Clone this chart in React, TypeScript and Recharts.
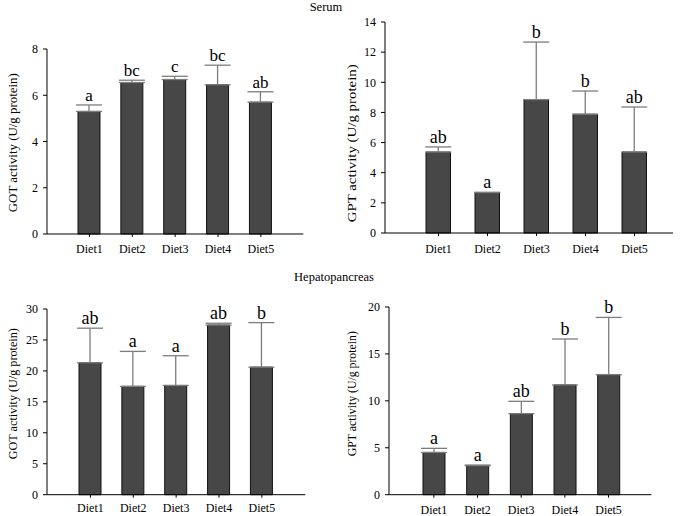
import React from "react";
import { BarChart, Bar, XAxis, YAxis, ErrorBar, LabelList, Label } from "recharts";

const diets = ["Diet1", "Diet2", "Diet3", "Diet4", "Diet5"];

// serum
const serumGot = [5.3, 6.55, 6.68, 6.45, 5.7];
const serumGotSd = [0.28, 0.1, 0.14, 0.85, 0.45];
const serumGotLetters = ["a", "bc", "c", "bc", "ab"];
const serumGotTicks = [0, 2, 4, 6, 8];

const serumGpt = [5.37, 2.68, 8.85, 7.88, 5.37];
const serumGptSd = [0.34, 0.02, 3.82, 1.54, 2.99];
const serumGptLetters = ["ab", "a", "b", "b", "ab"];
const serumGptTicks = [0, 2, 4, 6, 8, 10, 12, 14];

// hepatopancreas
const hepGot = [21.3, 17.5, 17.65, 27.4, 20.6];
const hepGotSd = [5.6, 5.65, 4.8, 0.3, 7.2];
const hepGotLetters = ["ab", "a", "a", "ab", "b"];
const hepGotTicks = [0, 5, 10, 15, 20, 25, 30];

const hepGpt = [4.5, 3.09, 8.63, 11.69, 12.79];
const hepGptSd = [0.44, 0.07, 1.32, 4.9, 6.1];
const hepGptLetters = ["a", "a", "ab", "b", "b"];
const hepGptTicks = [0, 5, 10, 15, 20];

const FONT = "'Liberation Serif', 'Times New Roman', serif";
const AXIS_W = 45;
const TOP = 30;
const XAXIS_H = 28;

type PanelProps = {
  values: number[];
  sd: number[];
  letters: string[];
  ticks: number[];
  yLabel: string;
  plotLeft: number;
  plotTop: number;
  plotW: number;
  plotH: number;
  barSize: number;
  padL: number;
  padR: number;
  labelX: number;
  labelCY: number;
  labelLen: number;
  letterSize: number;
  tickMargin: number;
};

const Panel = (p: PanelProps) => {
  const rows = diets.map((d, i) => ({
    name: d,
    value: p.values[i],
    sd: [0, p.sd[i]],
    letter: p.letters[i],
  }));
  const left = p.plotLeft - AXIS_W;
  const top = p.plotTop - TOP;
  const width = AXIS_W + p.plotW + 10;
  const height = TOP + p.plotH + XAXIS_H;

  const renderLetter = (props: any) => {
    const { x, y, width: w, height: h, index } = props;
    const row = rows[index];
    const perUnit = Number(h) / row.value;
    const errTop = Number(y) - row.sd[1] * perUnit;
    return (
      <text
        x={Number(x) + Number(w) / 2}
        y={errTop - 4}
        textAnchor="middle"
        fontSize={p.letterSize}
        fontFamily={FONT}
        fill="#000"
      >
        {row.letter}
      </text>
    );
  };

  const renderYLabel = () => (
    <text
      transform={`translate(${p.labelX - left},${p.labelCY - top}) rotate(-90)`}
      textAnchor="middle"
      dominantBaseline="central"
      fontSize={13}
      textLength={p.labelLen}
      lengthAdjust="spacingAndGlyphs"
      fontFamily={FONT}
      fill="#000"
    >
      {p.yLabel}
    </text>
  );

  return (
    <div style={{ position: "absolute", left, top }}>
      <BarChart
        width={width}
        height={height}
        data={rows}
        margin={{ top: TOP, right: 10, bottom: 0, left: 0 }}
      >
        <XAxis
          dataKey="name"
          height={XAXIS_H}
          padding={{ left: p.padL, right: p.padR }}
          stroke="#000"
          tickSize={3}
          tickMargin={p.tickMargin}
          tick={{ fill: "#000", fontSize: 12, fontFamily: FONT }}
        />
        <YAxis
          width={AXIS_W}
          domain={[0, p.ticks[p.ticks.length - 1]]}
          ticks={p.ticks}
          interval={0}
          stroke="#000"
          tickSize={4}
          tickMargin={5}
          tick={{ fill: "#000", fontSize: 12, fontFamily: FONT }}
        >
          <Label content={renderYLabel} />
        </YAxis>
        <Bar
          dataKey="value"
          fill="#474747"
          stroke="#111"
          strokeWidth={1}
          barSize={p.barSize}
          isAnimationActive={false}
        >
          <ErrorBar
            dataKey="sd"
            width={13}
            stroke="#7d7d7d"
            strokeWidth={1.3}
            direction="y"
            isAnimationActive={false}
          />
          <LabelList dataKey="letter" content={renderLetter} />
        </Bar>
      </BarChart>
    </div>
  );
};

export default function App() {
  return (
    <div
      style={{
        position: "absolute",
        left: 0,
        top: 0,
        width: 685,
        height: 516,
        background: "#fff",
        fontFamily: FONT,
      }}
    >
      <div style={{ position: "absolute", left: 296, width: 60, top: 0, textAlign: "center", fontSize: 12.5 }}>
        Serum
      </div>
      <div style={{ position: "absolute", left: 274, width: 120, top: 270, textAlign: "center", fontSize: 12.5 }}>
        Hepatopancreas
      </div>
      <Panel
        values={serumGot}
        sd={serumGotSd}
        letters={serumGotLetters}
        ticks={serumGotTicks}
        yLabel="GOT activity (U/g protein)"
        plotLeft={46.7}
        plotTop={49.3}
        plotW={256.3}
        plotH={185}
        barSize={22}
        padL={21}
        padR={21}
        labelX={12.7}
        labelCY={143}
        labelLen={139}
        letterSize={17}
        tickMargin={7}
      />
      <Panel
        values={serumGpt}
        sd={serumGptSd}
        letters={serumGptLetters}
        ticks={serumGptTicks}
        yLabel="GPT activity (U/g protein)"
        plotLeft={385}
        plotTop={21.7}
        plotW={288}
        plotH={211}
        barSize={24.5}
        padL={29}
        padR={14}
        labelX={351.5}
        labelCY={143}
        labelLen={158}
        letterSize={18}
        tickMargin={8}
      />
      <Panel
        values={hepGot}
        sd={hepGotSd}
        letters={hepGotLetters}
        ticks={hepGotTicks}
        yLabel="GOT activity (U/g protein)"
        plotLeft={46.7}
        plotTop={309.3}
        plotW={258.3}
        plotH={185.7}
        barSize={22}
        padL={22}
        padR={22}
        labelX={12.3}
        labelCY={394}
        labelLen={131}
        letterSize={18}
        tickMargin={6}
      />
      <Panel
        values={hepGpt}
        sd={hepGptSd}
        letters={hepGptLetters}
        ticks={hepGptTicks}
        yLabel="GPT activity (U/g protein)"
        plotLeft={389.3}
        plotTop={307.3}
        plotW={262.4}
        plotH={187.7}
        barSize={22}
        padL={23}
        padR={21}
        labelX={352}
        labelCY={394}
        labelLen={125}
        letterSize={18}
        tickMargin={8}
      />
    </div>
  );
}
